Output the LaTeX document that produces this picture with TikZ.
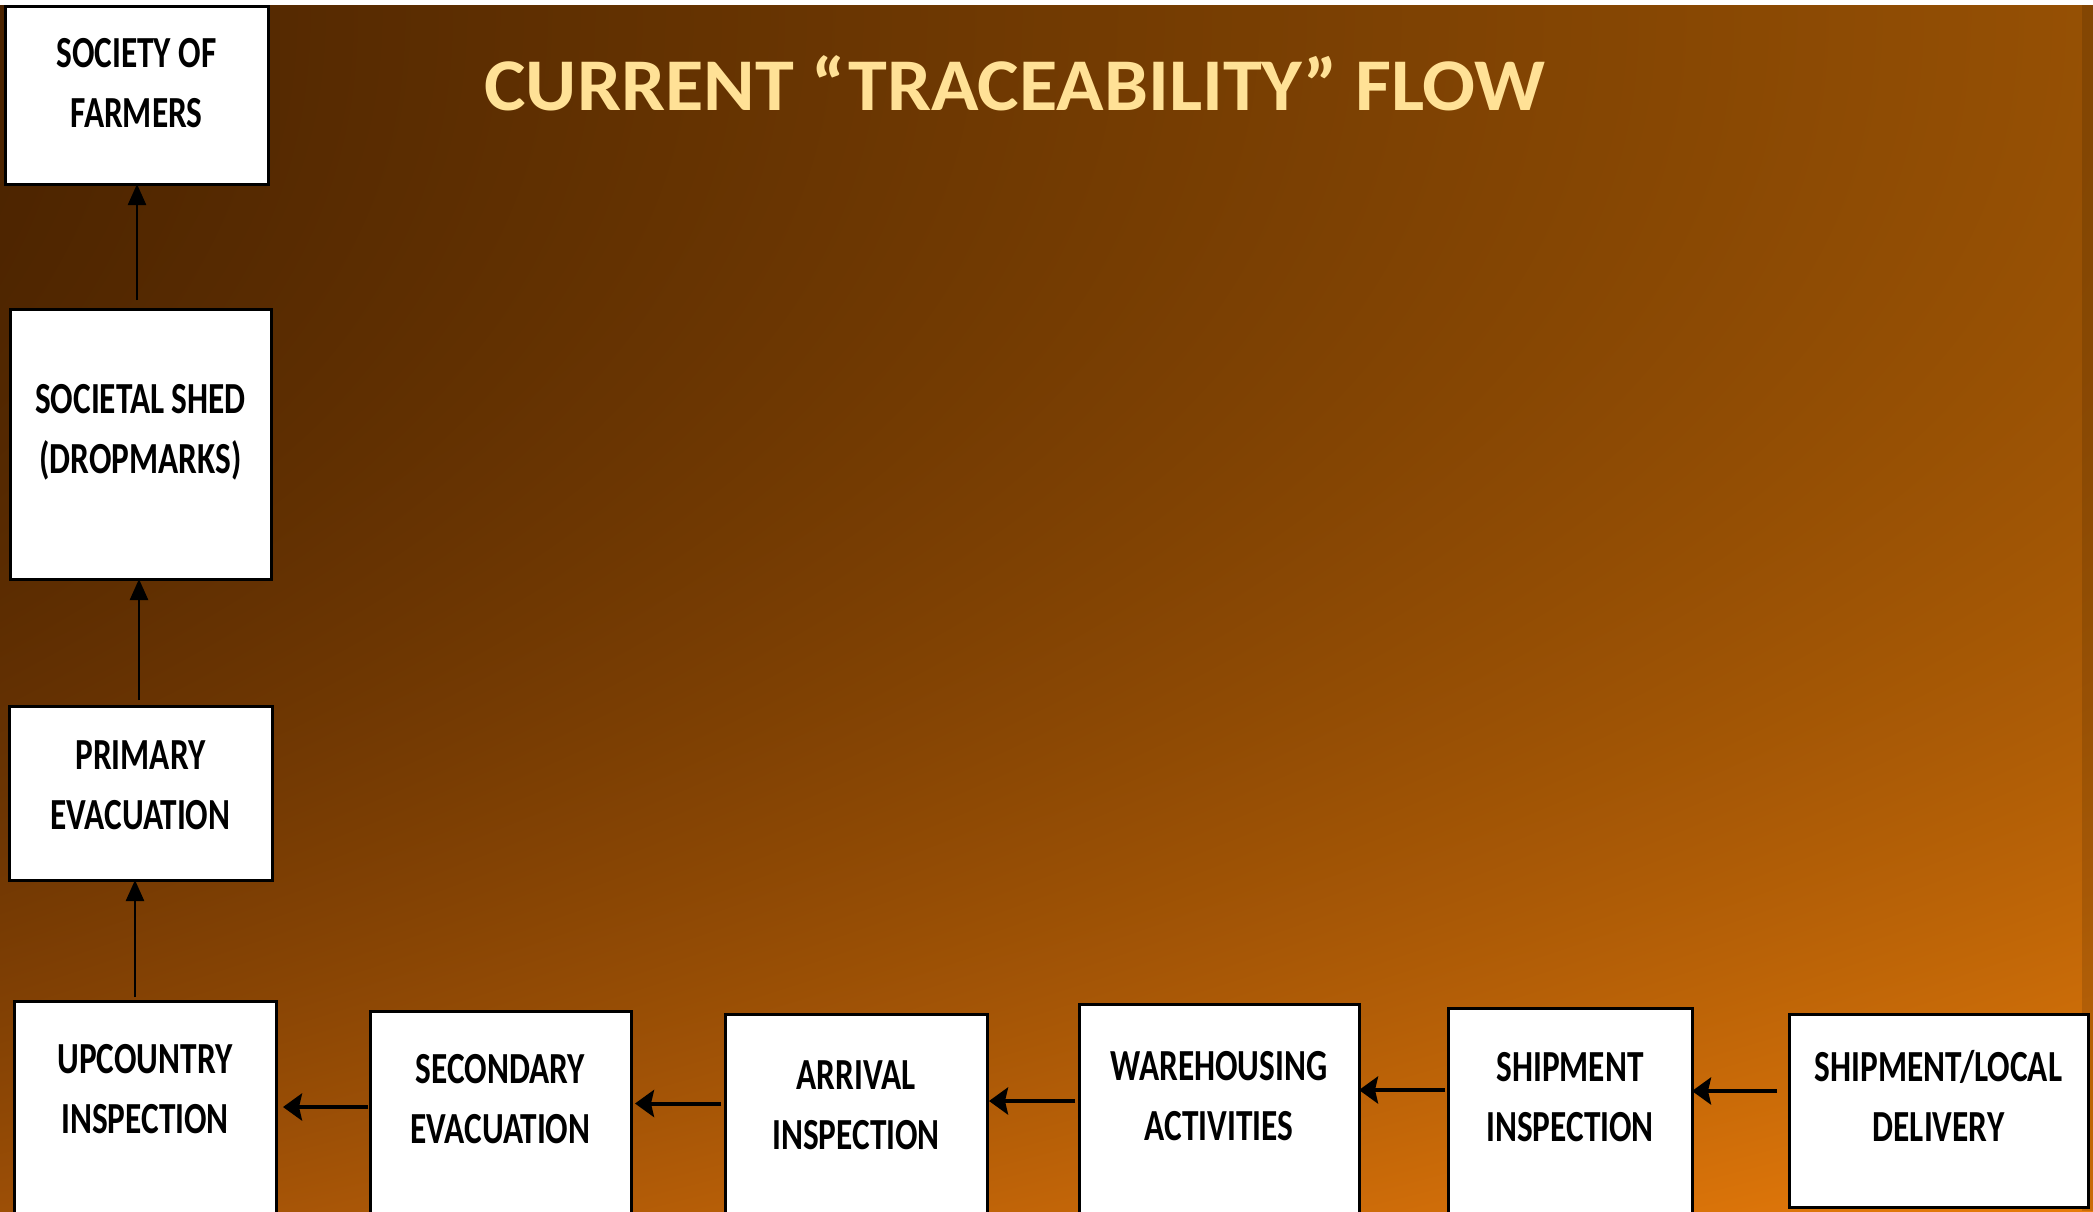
\documentclass[tikz,border=0pt]{standalone}
\usepackage{fontspec}
\setmainfont{Carlito}
\newfontfamily\boxfont{Carlito}[FakeStretch=0.75]
\usetikzlibrary{arrows.meta,calc,shadings}
\definecolor{titlecol}{HTML}{FFE196}
\pgfdeclarefunctionalshading{bgfun}{\pgfpoint{0bp}{0bp}}{\pgfpoint{100bp}{100bp}}{}{
  75 exch sub 50 div
  dup 0 lt {pop 0} if dup 1 gt {pop 1} if
  2.3 exp
  exch 25 sub 50 div
  dup 0 lt {pop 0} if dup 1 gt {pop 1} if
  2 copy
  0.290 mul exch 0.318 mul add 0.298 add
  3 1 roll
  2 copy
  0.173 mul exch 0.169 mul add 0.141 add
  3 1 roll
  0.016 mul exch 0.024 mul add
}
\begin{document}
\begin{tikzpicture}[x=0.5pt,y=-0.5pt,
  flowbox/.style={draw=black,line width=1.5pt,fill=white,rectangle,inner sep=0pt,outer sep=0pt,anchor=north west},
  boxtext/.style={inner sep=0pt,anchor=north,align=center,font={\boxfont\bfseries\fontsize{22.2pt}{30pt}\selectfont}},
  harrow/.style={line width=2pt,-{Stealth[length=9.5pt,width=13.5pt,inset=1.5pt]}},
  varrow/.style={line width=1.2pt,-{Triangle[length=10.5pt,width=9pt]}}]
\useasboundingbox (0,0) rectangle (2093,1211);
\begin{scope}
\clip (0,0) rectangle (2093,1211);
\shade[shading=bgfun] (0,0) rectangle (2093,1211);
\fill[white] (0,0) rectangle (2093,5);
\fill[black,opacity=0.12] (2082,5) rectangle (2093,1211);

\node[anchor=base west, inner sep=0pt, xscale=1.053, text=titlecol, font=\bfseries\fontsize{37.2pt}{40pt}\selectfont] (title) at (484,110) {CURRENT “TRACEABILITY” FLOW};

\node[flowbox,minimum width=131.5pt,minimum height=89pt] (soc) at (5,6) {};
\node[flowbox,minimum width=130.5pt,minimum height=135pt] (shed) at (10,309) {};
\node[flowbox,minimum width=131.5pt,minimum height=87pt] (prim) at (9,706) {};
\node[flowbox,minimum width=131pt,minimum height=109.5pt] (upc) at (14,1001) {};
\node[flowbox,minimum width=130.5pt,minimum height=104.5pt] (sec) at (370,1011) {};
\node[flowbox,minimum width=131pt,minimum height=103pt] (arr) at (725,1014) {};
\node[flowbox,minimum width=140pt,minimum height=107.75pt] (ware) at (1079,1004.5) {};
\node[flowbox,minimum width=122pt,minimum height=106pt] (shipi) at (1448,1008) {};
\node[flowbox,minimum width=149.5pt,minimum height=96.5pt] (shipl) at (1789,1014) {};

\node[boxtext] (socT) at ($(soc.north)+(0,32)$) {SOCIETY OF\\FARMERS};
\node[boxtext] (shedT) at ($(shed.north)+(0,75)$) {SOCIETAL SHED\\(DROPMARKS)};
\node[boxtext] (primT) at ($(prim.north)+(0,34)$) {PRIMARY\\EVACUATION};
\node[boxtext] (upcT) at ($(upc.north)+(0,43)$) {UPCOUNTRY\\INSPECTION};
\node[boxtext] (secT) at ($(sec.north)+(0,43)$) {SECONDARY\\EVACUATION};
\node[boxtext] (arrT) at ($(arr.north)+(0,46)$) {ARRIVAL\\INSPECTION};
\node[boxtext] (wareT) at ($(ware.north)+(0,46.5)$) {WAREHOUSING\\ACTIVITIES};
\node[boxtext] (shipiT) at ($(shipi.north)+(0,44)$) {SHIPMENT\\INSPECTION};
\node[boxtext] (shiplT) at ($(shipl.north)+(0,36)$) {SHIPMENT/LOCAL\\DELIVERY};

\draw[varrow] ($(shed.north)+(-3.5,-9)$) -- ($(soc.south)+(0.5,0)$);
\draw[varrow] ($(prim.north)+(-1.5,-6)$) -- ($(shed.south)+(-1.5,0)$);
\draw[varrow] ($(upc.north)+(-10,-4)$) -- ($(prim.south)+(-5.5,0)$);

\draw[harrow] ($(sec.north west)+(-2,96)$) -- ($(upc.north east)+(7,106)$);
\draw[harrow] ($(arr.north west)+(-4,89.5)$) -- ($(sec.north east)+(4,92.5)$);
\draw[harrow] ($(ware.north west)+(-4,96.5)$) -- ($(arr.north east)+(2,87)$);
\draw[harrow] ($(shipi.north west)+(-3,82)$) -- ($(ware.north east)+(0,85.5)$);
\draw[harrow] ($(shipl.north west)+(-12,77)$) -- ($(shipi.north east)+(0,83)$);
\end{scope}
\end{tikzpicture}
\end{document}
